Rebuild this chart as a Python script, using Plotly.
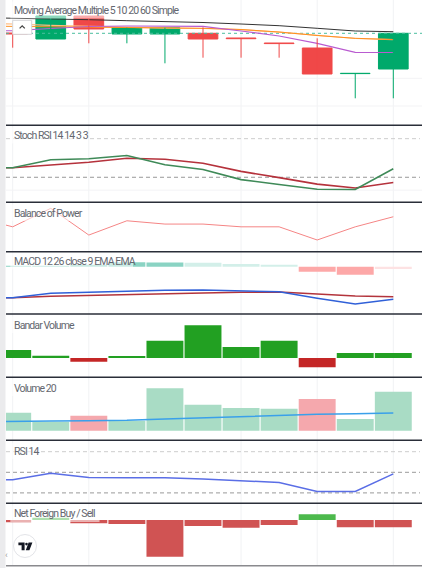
import plotly.graph_objects as go

W, H = 422, 568

# ---------------- data ----------------
idx = list(range(11))            # bar positions
idx_line = list(range(-1, 11))   # line series include one earlier point

# main pane candles (price)
open_ = [587.0, 581.0, 604.0, 586.0, 586.0, 586.7, 582.0, 577.0, 572.0, 546.4, 551.0]
high = [590.0, 604.0, 604.0, 592.3, 592.3, 592.7, 582.0, 577.0, 581.7, 546.7, 586.7]
low = [572.3, 581.0, 576.7, 576.7, 556.7, 562.3, 562.3, 562.3, 546.0, 521.7, 521.7]
close = [586.0, 604.0, 591.0, 592.3, 592.3, 581.0, 581.3, 576.4, 546.0, 546.7, 586.7]

# moving averages (price)
ma_60 = [602.5, 602.0, 601.3, 600.3, 599.3, 598.5, 597.5, 596.0, 594.3, 591.7, 589.0, 588.3]
ma_20 = [596.5, 596.0, 594.7, 593.5, 592.3, 591.8, 591.5, 590.3, 587.8, 584.3, 581.5, 580.3]
ma_10 = [594.0, 593.7, 593.0, 592.7, 592.3, 592.0, 591.7, 590.5, 588.0, 584.5, 581.7, 580.5]
ma_5 = [589.0, 589.3, 591.5, 593.5, 594.0, 594.0, 593.7, 589.0, 584.0, 576.7, 567.7, 567.5]

# Stoch RSI
stoch_k = [34.9, 34.9, 47.2, 48.9, 53.9, 39.4, 32.0, 16.4, 8.7, 1.4, 1.0, 33.2]
stoch_d = [34.9, 34.9, 39.1, 43.3, 49.5, 48.0, 41.8, 29.2, 19.4, 9.3, 3.4, 11.9]
stoch_levels = [80, 20]

# Balance of Power
bop = [0.52, -0.01, 1.0, -0.46, 0.32, 0.14, 0.14, -0.01, -0.01, -0.73, -0.01, 0.54]

# MACD
macd = [-15.5, -15.5, -13.3, -12.8, -12.4, -11.75, -11.65, -12.0, -12.55, -15.8, -18.65, -16.25]
signal = [-15.5, -15.5, -14.8, -14.3, -14.0, -13.5, -13.15, -12.8, -12.65, -13.65, -14.65, -15.0]
hist = [0.3, 0.5, 0.6, 2.2, 2.1, 2.0, 1.35, 0.7, -2.5, -4.0, -1.15]
hist_state = ["grow", "grow", "grow", "grow", "grow", "fall", "fall", "fall", "grow", "grow", "fall"]

# Bandar Volume
bandar = [8.0, 2.3, -3.7, 2.0, 17.3, 32.7, 11.0, 17.3, -9.3, 5.0, 5.0]

# Volume 20
volume = [18.0, 9.0, 15.0, 10.0, 42.4, 26.0, 22.7, 22.0, 31.7, 11.7, 39.0]
vol_dir = ["up", "up", "down", "up", "up", "up", "up", "up", "down", "up", "up"]
vol_ma = [9.0, 9.0, 9.7, 10.0, 10.4, 11.7, 13.0, 14.0, 15.0, 16.4, 17.0, 17.7]

# RSI 14
rsi = [42.3, 42.8, 49.0, 45.0, 44.8, 44.8, 43.5, 41.8, 40.1, 31.4, 31.4, 48.5]
rsi_levels = [70, 50, 30]

# Net Foreign Buy / Sell
net_foreign = [-2.3, 2.3, -3.3, -4.0, -36.7, -6.0, -7.7, -5.0, 5.7, -7.3, -7.3]

titles = ["Moving Average Multiple 5 10 20 60 Simple", "Stoch RSI 14 14 3 3", "Balance of Power",
          "MACD 12 26 close 9 EMA EMA", "Bandar Volume", "Volume 20", "RSI 14", "Net Foreign Buy / Sell"]

# ---------------- layout helpers ----------------
def px(x):
    return x / W


def py(y):
    return 1 - y / H


UP, DOWN = "#00a96b", "#f04848"
X_RANGE = [-0.176, 10.754]
bounds = [0, 125.3, 202.3, 251.7, 314.0, 377.3, 440.3, 503.3, 565.7]
y_ranges = [[494.7, 620.0], [-18.9, 100.8], [-1.37, 1.33], [-23.65, 7.5],
            [-19.3, 44.0], [-9.6, 53.4], [19.9, 81.07], [-45.7, 16.7]]

fig = go.Figure()


def ax(k):
    return ("x" if k == 1 else f"x{k}"), ("y" if k == 1 else f"y{k}")


layout_axes = {}
for k in range(1, 9):
    top, bot = bounds[k - 1], bounds[k]
    xname = "xaxis" if k == 1 else f"xaxis{k}"
    yname = "yaxis" if k == 1 else f"yaxis{k}"
    xa, ya = ax(k)
    layout_axes[xname] = dict(domain=[6 / W, 1], range=X_RANGE, anchor=ya, visible=False, fixedrange=True)
    layout_axes[yname] = dict(domain=[py(bot), py(top)], range=y_ranges[k - 1], anchor=xa,
                              visible=False, fixedrange=True)

# ---- pane 1: main ----
xa, ya = ax(1)
fig.add_trace(go.Scatter(x=[X_RANGE[0], X_RANGE[1]], y=[close[-1], close[-1]], mode="lines",
                         line=dict(color="#4cbf9f", width=1, dash="dot"), xaxis=xa, yaxis=ya))
for series, col, w in [(ma_60, "#333333", 1), (ma_20, "#ffbb80", 1.2), (ma_10, "#ff9020", 1),
                       (ma_5, "#b95bd0", 1.2)]:
    fig.add_trace(go.Scatter(x=idx_line, y=series, mode="lines", line=dict(color=col, width=w),
                             xaxis=xa, yaxis=ya))
for is_up, col in [(True, UP), (False, DOWN)]:
    wx, wy = [], []
    for i in idx:
        if (close[i] >= open_[i]) == is_up:
            wx += [i, i, None]
            wy += [low[i], high[i], None]
    fig.add_trace(go.Scatter(x=wx, y=wy, mode="lines", line=dict(color=col, width=1), xaxis=xa, yaxis=ya))
cols = [UP if c >= o else DOWN for o, c in zip(open_, close)]
fig.add_trace(go.Bar(x=idx, base=[min(o, c) for o, c in zip(open_, close)],
                     y=[max(abs(c - o), 0.05) for o, c in zip(open_, close)], width=0.78,
                     marker=dict(color=cols, line=dict(color=cols, width=1)), xaxis=xa, yaxis=ya))

# ---- pane 2: Stoch RSI ----
xa, ya = ax(2)
fig.add_trace(go.Scatter(x=idx_line, y=stoch_d, mode="lines", line=dict(color="#b5323c", width=1.6),
                         xaxis=xa, yaxis=ya))
fig.add_trace(go.Scatter(x=idx_line, y=stoch_k, mode="lines", line=dict(color="#3f8a58", width=1.6),
                         xaxis=xa, yaxis=ya))

# ---- pane 3: BOP ----
xa, ya = ax(3)
fig.add_trace(go.Scatter(x=idx_line, y=bop, mode="lines", line=dict(color="#f58585", width=1),
                         xaxis=xa, yaxis=ya))

# ---- pane 4: MACD ----
xa, ya = ax(4)
hcol = {("grow", True): "#8ad3c3", ("fall", True): "#d3efe9",
        ("grow", False): "#fda8a8", ("fall", False): "#fde2e3"}
fig.add_trace(go.Bar(x=idx, y=hist, width=0.97,
                     marker=dict(color=[hcol[(s, v >= 0)] for s, v in zip(hist_state, hist)], line=dict(width=0)),
                     xaxis=xa, yaxis=ya))
fig.add_trace(go.Scatter(x=idx_line, y=signal, mode="lines", line=dict(color="#b3343c", width=1.5),
                         xaxis=xa, yaxis=ya))
fig.add_trace(go.Scatter(x=idx_line, y=macd, mode="lines", line=dict(color="#3060d8", width=1.5),
                         xaxis=xa, yaxis=ya))

# ---- pane 5: Bandar Volume ----
xa, ya = ax(5)
fig.add_trace(go.Bar(x=idx, y=bandar, width=0.97,
                     marker=dict(color=["#22a022" if v >= 0 else "#c42626" for v in bandar], line=dict(width=0)),
                     xaxis=xa, yaxis=ya))

# ---- pane 6: Volume ----
xa, ya = ax(6)
fig.add_trace(go.Bar(x=idx, y=volume, width=0.97,
                     marker=dict(color=["#a9dcc5" if d == "up" else "#f5a8ad" for d in vol_dir], line=dict(width=0)),
                     xaxis=xa, yaxis=ya))
fig.add_trace(go.Scatter(x=idx_line, y=vol_ma, mode="lines", line=dict(color="#3aa0ea", width=1.5),
                         xaxis=xa, yaxis=ya))

# ---- pane 7: RSI ----
xa, ya = ax(7)
fig.add_trace(go.Scatter(x=idx_line, y=rsi, mode="lines", line=dict(color="#5a6ee6", width=1.5),
                         xaxis=xa, yaxis=ya))

# ---- pane 8: Net Foreign ----
xa, ya = ax(8)
fig.add_trace(go.Bar(x=idx, y=net_foreign, width=0.97,
                     marker=dict(color=["#4cb94c" if v >= 0 else "#d05353" for v in net_foreign], line=dict(width=0)),
                     xaxis=xa, yaxis=ya))

# ---------------- shapes ----------------
shapes = []
# vertical grid
for gx in [0, 2, 6, 8, 10]:
    shapes.append(dict(type="line", xref="x", yref="paper", x0=gx, x1=gx, y0=py(565.7), y1=1,
                       line=dict(color="#f1f2f4", width=1), layer="below"))
# faint horizontal grid
for yref, val in [("y", 541.7), ("y", 514.0), ("y2", 0)]:
    shapes.append(dict(type="line", xref="paper", yref=yref, x0=6 / W, x1=1, y0=val, y1=val,
                       line=dict(color="#f3f3f5", width=1), layer="below"))
# dashed levels
for lv, col in zip(stoch_levels, ["#cdcdcd", "#999999"]):
    shapes.append(dict(type="line", xref="paper", yref="y2", x0=6 / W, x1=420 / W, y0=lv, y1=lv,
                       line=dict(color=col, width=1, dash="4px,3px"), layer="below"))
for lv, col in zip(rsi_levels, ["#cdcdcd", "#9a9a9a", "#9a9a9a"]):
    shapes.append(dict(type="line", xref="paper", yref="y7", x0=6 / W, x1=420 / W, y0=lv, y1=lv,
                       line=dict(color=col, width=1, dash="4px,3px"), layer="below"))

# legend backgrounds
leg = [  # (text center y, box right, box top, box bottom)
    (10.0, 182, 1.5, 18.5), (135.5, 85.5, 127.5, 143.5), (212.8, 83, 204.5, 221),
    (261.0, 133, 252.5, 269.5), (324.7, 74, 316.5, 333), (387.7, 57, 379.5, 396),
    (451.0, 36.5, 443, 459), (513.5, 99.5, 505.5, 522)]
for cy, xr, yt, yb in leg:
    shapes.append(dict(type="rect", xref="paper", yref="paper", x0=px(10.3), x1=px(xr), y0=py(yb), y1=py(yt),
                       fillcolor="rgba(255,255,255,0.55)", line=dict(width=0), layer="above"))

# pane separators
for b in bounds[1:-1]:
    shapes.append(dict(type="line", xref="paper", yref="paper", x0=px(6), x1=1, y0=py(b), y1=py(b),
                       line=dict(color="#2a2e39", width=1.5), layer="above"))
shapes.append(dict(type="line", xref="paper", yref="paper", x0=px(6), x1=1, y0=py(565.7), y1=py(565.7),
                   line=dict(color="#8a8a8e", width=1.5), layer="above"))
# left strip
shapes.append(dict(type="rect", xref="paper", yref="paper", x0=0, x1=px(5.5), y0=0, y1=1,
                   fillcolor="#ebebed", line=dict(width=0), layer="above"))
# collapse button
shapes.append(dict(type="rect", xref="paper", yref="paper", x0=px(12.7), x1=px(31.7), y0=py(34.3), y1=py(20.3),
                   fillcolor="#ffffff", line=dict(color="#d4d4d8", width=1), layer="above"))
shapes.append(dict(type="path", xref="paper", yref="paper",
                   path=f"M {px(19.6)} {py(28.4)} L {px(22.2)} {py(25.9)} L {px(24.8)} {py(28.4)}",
                   line=dict(color="#444", width=1.3), layer="above"))
# TV logo
shapes.append(dict(type="circle", xref="paper", yref="paper", x0=px(13.5), x1=px(36.5), y0=py(557.5), y1=py(534.5),
                   fillcolor="#ffffff", line=dict(color="#e3e4e8", width=1), layer="above"))
tv_path = (f"M {px(18.4)} {py(542.4)} L {px(24.6)} {py(542.4)} L {px(24.6)} {py(550.2)} L {px(21.6)} {py(550.2)} "
           f"L {px(21.6)} {py(545.2)} L {px(18.4)} {py(545.2)} Z "
           f"M {px(28.6)} {py(542.4)} L {px(32.4)} {py(542.4)} L {px(29.4)} {py(550.2)} L {px(25.8)} {py(550.2)} Z")
shapes.append(dict(type="path", xref="paper", yref="paper", path=tv_path, fillcolor="#131722",
                   line=dict(width=0), layer="above"))
shapes.append(dict(type="circle", xref="paper", yref="paper", x0=px(25.2), x1=px(27.8), y0=py(545.4), y1=py(542.8),
                   fillcolor="#131722", line=dict(width=0), layer="above"))

# ---------------- annotations ----------------
FONT = "Roboto, sans-serif"
annotations = []
for (cy, xr, yt, yb), t in zip(leg, titles):
    annotations.append(dict(text=f"<span style='letter-spacing:-0.9px'>{t}</span>", x=px(12.2), y=py(cy + 0.3),
                            xref="paper", yref="paper", xanchor="left", yanchor="middle", showarrow=False,
                            font=dict(family=FONT, size=10.5, color="#64676f")))
annotations.append(dict(text="‹", x=px(2.8), y=py(561.5), xref="paper", yref="paper", showarrow=False,
                        font=dict(family="Roboto", size=9, color="#9a9a9a")))

fig.update_layout(width=W, height=H, margin=dict(l=0, r=0, t=0, b=0), paper_bgcolor="#ffffff",
                  plot_bgcolor="#ffffff", showlegend=False, barmode="overlay", hovermode=False,
                  shapes=shapes, annotations=annotations, **layout_axes)

fig.write_html("out.html", config={"displayModeBar": False})
